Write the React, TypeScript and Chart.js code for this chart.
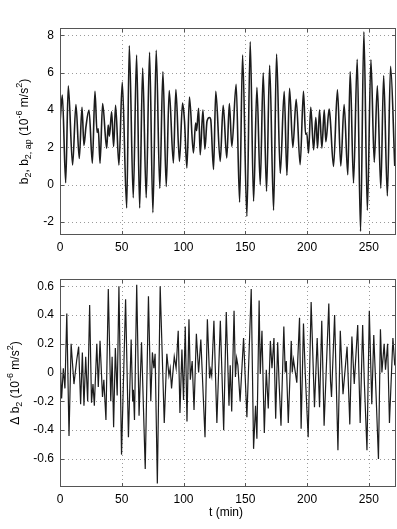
import React, { useEffect, useRef } from 'react';
import { Chart, registerables } from 'chart.js';

Chart.register(...registerables);

// ---------- data ----------
const xTickValues = [0, 50, 100, 150, 200, 250];
const topYTickValues = [-2, 0, 2, 4, 6, 8];
const bottomYTickValues = [-0.6, -0.4, -0.2, 0, 0.2, 0.4, 0.6];

const topTimes = [0,1.9,4.6,6.7,10.2,12.9,15.6,17.8,19.4,21,23.5,26.2,28.3,30,31,32.4,34.5,37.8,39,40,41.8,43.4,45,47.7,50.4,54,56.1,59.3,62,64.5,66.9,69.8,72.5,75.2,77.9,80.8,83.3,86,88.4,91.8,93.8,96.7,99.2,100.8,102.7,104.8,108,109.8,110.6,112.2,113.5,115.7,117.3,119,121,122,124.3,126.1,129.7,132.1,135,137.1,139.1,142.6,145.4,147.8,151.3,154,156.7,159.4,162.1,164.5,167.2,169.7,172.9,175.3,178.3,181.5,183.7,185.8,188.5,191.2,194.4,197.1,198.8,199.8,201.2,203,205.3,207.1,208.5,210.1,212,213.9,215.2,217.9,218.8,221.4,224.6,227.3,230,233,234.9,237.6,240.6,243.3,246,248.8,251.7,254.4,256.9,259.7,262,265,267.6,271];
const topValues = [3.3,4.8,0.1,5.3,1.05,4.3,1.4,4.15,2.1,3.1,4.0,1.15,5.0,2.8,3.0,1.15,4.35,1.95,3.2,2.6,3.9,2.05,4.25,1.05,5.5,-1.25,7.45,-0.7,6.95,-1.25,6.25,-0.7,7.1,-1.5,7.2,-0.2,6.06,-0.1,5.05,1.16,5.1,1.25,4.37,3.4,0.9,4.7,1.7,3.3,2.9,4.1,1.6,4.0,1.9,3.4,3.6,3.5,0.82,5.0,1.25,4.25,1.43,4.35,2.05,5.38,-0.94,6.95,-1.7,7.66,-0.89,5.22,0,6.0,-0.36,6.4,-1.37,7.0,0.6,5.0,0.5,5.17,2.0,4.58,1.07,5.0,2.7,2.75,1.7,4.15,1.87,3.6,1.96,4.0,1.96,4.0,2.3,4.05,3.5,0.98,5.08,1.0,4.3,0.53,6.06,0.09,6.72,-2.5,8.2,-1.37,6.7,1.2,5.3,-0.2,5.85,-0.6,6.35,1.0];

const bottomTimes = [0,1.3,2.7,4,5.5,7.3,9,11.3,13.5,15.1,16.7,18.1,19.4,20.8,22.4,24,25.5,26.7,27.8,29.8,31,32.4,34.4,35.5,37.2,39.1,41.1,42.2,43.4,44.8,46.3,47.7,49.8,53.1,55.4,57.6,58.8,59.4,60.3,62.1,64,66,69,71.6,73.5,74.8,76,77,78.8,81.1,84.4,86.5,88.2,89.2,90.3,92.5,94,95.7,97.1,98.7,100,101.4,102.8,104.4,105.5,107,108.5,110.4,112.2,114,117.4,119.3,121.1,122,122.8,124.6,127,129.8,132.5,134.6,136.8,137.8,139,140.9,142,143,144,145.8,148.6,151.3,154.8,156.7,158.3,159.4,161.2,162.1,163.5,165.4,167,168.6,170.3,171.6,173.2,174.6,176.2,177.3,178.9,181.2,182.3,183.2,184.8,187.2,188,189,191.7,193.9,195.2,197.1,198.5,200.9,203.3,206,208.2,210.1,211.9,213.8,217.6,219,219.8,222.3,225,226.9,229.1,232.4,234.6,236.3,238.2,241,243,245,246.3,248.5,250.4,252.4,254,255.2,257.8,259.4,260.6,262.4,263.5,265.2,266.7,269.5,271];
const bottomValues = [0.13,-0.18,0.03,-0.11,0.41,-0.44,0.2,-0.08,0.085,0.18,-0.22,0.14,-0.23,0.11,-0.2,0.47,-0.21,-0.08,-0.23,0.2,-0.1,0.22,-0.17,-0.05,-0.33,0.58,-0.2,0.11,-0.38,0.17,-0.16,0.6,-0.57,0.51,-0.45,0.23,-0.2,-0.12,-0.33,0.61,-0.3,0.21,-0.67,0.53,-0.2,0.14,0.03,0.13,-0.77,0.6,-0.35,0.13,-0.02,0.03,-0.11,0.11,0.03,0.29,-0.28,0.16,-0.19,0.32,-0.34,0.37,-0.05,0.08,-0.26,0.27,0.0,0.23,-0.45,0.37,-0.04,0.02,-0.02,0.36,-0.35,0.36,-0.4,0.42,-0.23,0.05,-0.27,0.43,-0.03,0.1,0.05,-0.2,0.24,-0.31,0.58,-0.53,-0.23,-0.46,0.5,-0.01,0.29,-0.42,0.02,-0.25,0.22,0.03,0.24,-0.32,0.21,-0.06,-0.37,0.32,0.0,0.08,-0.35,0.22,0.0,0.09,-0.07,0.38,-0.39,0.34,0.0,-0.45,0.49,-0.24,0.24,-0.24,0.36,-0.37,0.48,-0.06,-0.17,0.4,-0.54,0.29,-0.15,0.18,-0.36,0.25,-0.08,0.33,-0.35,0.33,-0.05,-0.54,0.43,-0.22,0.26,0.0,-0.6,0.3,0.0,0.2,0.02,0.2,-0.35,0.24,0.05];

type Seg = { t: string; k: 'n' | 'sub' | 'sup' };
const topLabel: Seg[] = [
  { t: 'b', k: 'n' }, { t: '2', k: 'sub' }, { t: ', b', k: 'n' }, { t: '2, ap', k: 'sub' },
  { t: ' (10', k: 'n' }, { t: '-6', k: 'sup' }, { t: ' m/s', k: 'n' }, { t: '2', k: 'sup' }, { t: ')', k: 'n' },
];
const bottomLabel: Seg[] = [
  { t: '\u0394 b', k: 'n' }, { t: '2', k: 'sub' }, { t: ' (10', k: 'n' }, { t: '-6', k: 'sup' },
  { t: ' m/s', k: 'n' }, { t: '2', k: 'sup' }, { t: ')', k: 'n' },
];

const FONT = '"Liberation Sans", Arial, Helvetica, sans-serif';

function framePlugin(yTicks: number[], label: Seg[], labelX: number, xTitle: string | null, xTitleY: number) {
  return {
    id: 'frame',
    beforeDatasetsDraw(chart: any) {
      const { ctx, chartArea: a, scales } = chart;
      ctx.save();
      ctx.strokeStyle = '#9a9a9a';
      ctx.lineWidth = 1;
      ctx.setLineDash([1, 3]);
      ctx.beginPath();
      for (const v of xTickValues) {
        const x = Math.round(scales.x.getPixelForValue(v)) + 0.5;
        if (x <= a.left + 1 || x >= a.right - 1) continue;
        ctx.moveTo(x, a.top); ctx.lineTo(x, a.bottom);
      }
      for (const v of yTicks) {
        const y = Math.round(scales.y.getPixelForValue(v)) + 0.5;
        ctx.moveTo(a.left, y); ctx.lineTo(a.right, y);
      }
      ctx.stroke();
      ctx.restore();
    },
    afterDraw(chart: any) {
      const { ctx, chartArea: a, scales } = chart;
      ctx.save();
      ctx.strokeStyle = '#555';
      ctx.lineWidth = 1;
      ctx.setLineDash([]);
      ctx.strokeRect(a.left + 0.5, a.top + 0.5, a.right - a.left - 1, a.bottom - a.top - 1);
      ctx.beginPath();
      for (const v of xTickValues) {
        const x = Math.round(scales.x.getPixelForValue(v)) + 0.5;
        ctx.moveTo(x, a.bottom); ctx.lineTo(x, a.bottom - 4);
        ctx.moveTo(x, a.top); ctx.lineTo(x, a.top + 4);
      }
      for (const v of yTicks) {
        const y = Math.round(scales.y.getPixelForValue(v)) + 0.5;
        ctx.moveTo(a.left, y); ctx.lineTo(a.left + 4, y);
        ctx.moveTo(a.right, y); ctx.lineTo(a.right - 4, y);
      }
      ctx.stroke();

      // y title with sub/superscripts
      const cy = (a.top + a.bottom) / 2;
      ctx.fillStyle = '#000';
      ctx.textBaseline = 'middle';
      ctx.textAlign = 'left';
      const fontFor = (k: string) => (k === 'n' ? `12px ${FONT}` : `9px ${FONT}`);
      let total = 0;
      for (const s of label) { ctx.font = fontFor(s.k); total += ctx.measureText(s.t).width; }
      ctx.translate(labelX, cy);
      ctx.rotate(-Math.PI / 2);
      let x = -total / 2;
      for (const s of label) {
        ctx.font = fontFor(s.k);
        const dy = s.k === 'sub' ? 4 : s.k === 'sup' ? -5 : 0;
        ctx.fillText(s.t, x, dy);
        x += ctx.measureText(s.t).width;
      }
      ctx.setTransform(1, 0, 0, 1, 0, 0);
      if (xTitle) {
        ctx.font = `12px ${FONT}`;
        ctx.textAlign = 'center';
        ctx.fillText(xTitle, (a.left + a.right) / 2 - 2, xTitleY);
      }
      ctx.restore();
    },
  };
}

function makeConfig(opts: {
  times: number[]; values: number[]; yMin: number; yMax: number; yTicks: number[];
  padTop: number; xAxisHeight: number; label: Seg[]; labelX: number; xTitle: string | null; xTitleY: number;
  smooth: boolean; lineWidth: number;
}) {
  const data = opts.times.map((t, i) => ({ x: t, y: opts.values[i] }));
  return {
    type: 'line' as const,
    data: {
      datasets: [{
        data,
        borderColor: '#1c1c1c',
        borderWidth: opts.lineWidth,
        pointRadius: 0,
        fill: false,
        tension: opts.smooth ? 0.4 : 0,
        cubicInterpolationMode: opts.smooth ? ('monotone' as const) : ('default' as const),
      }],
    },
    options: {
      responsive: false,
      animation: false as const,
      layout: { padding: { left: 0, right: 1, top: opts.padTop, bottom: 0 } },
      plugins: { legend: { display: false }, tooltip: { enabled: false } },
      scales: {
        x: {
          type: 'linear' as const,
          min: 0, max: 272,
          grid: { display: false, drawTicks: false },
          border: { display: false },
          afterBuildTicks: (s: any) => { s.ticks = xTickValues.map((v) => ({ value: v })); },
          afterFit: (s: any) => { s.height = opts.xAxisHeight; },
          ticks: { color: '#000', font: { family: FONT, size: 12 }, padding: 5, maxRotation: 0, autoSkip: false },
        },
        y: {
          type: 'linear' as const,
          min: opts.yMin, max: opts.yMax,
          grid: { display: false, drawTicks: false },
          border: { display: false },
          afterBuildTicks: (s: any) => { s.ticks = opts.yTicks.map((v) => ({ value: v })); },
          afterFit: (s: any) => { s.width = 60; },
          ticks: { color: '#000', font: { family: FONT, size: 12 }, padding: 6, autoSkip: false },
        },
      },
    },
    plugins: [framePlugin(opts.yTicks, opts.label, opts.labelX, opts.xTitle, opts.xTitleY)],
  };
}

export default function App() {
  const topRef = useRef<HTMLCanvasElement>(null);
  const bottomRef = useRef<HTMLCanvasElement>(null);

  useEffect(() => {
    const prevMargin = document.body.style.margin;
    document.body.style.margin = '0';
    const c1 = new Chart(topRef.current!, makeConfig({
      times: topTimes, values: topValues, yMin: -2.7, yMax: 8.4, yTicks: topYTickValues,
      padTop: 28, xAxisHeight: 25, label: topLabel, labelX: 25, xTitle: null, xTitleY: 0,
      smooth: true, lineWidth: 1.6,
    }) as any);
    const c2 = new Chart(bottomRef.current!, makeConfig({
      times: bottomTimes, values: bottomValues, yMin: -0.795, yMax: 0.65, yTicks: bottomYTickValues,
      padTop: 19, xAxisHeight: 42, label: bottomLabel, labelX: 16, xTitle: 't (min)', xTitleY: 253,
      smooth: false, lineWidth: 1.2,
    }) as any);
    return () => {
      c1.destroy();
      c2.destroy();
      document.body.style.margin = prevMargin;
    };
  }, []);

  return (
    <div style={{ position: 'relative', width: 397, height: 529, background: '#fff' }}>
      <canvas ref={topRef} width={397} height={260} style={{ position: 'absolute', left: 0, top: 0, width: 397, height: 260 }} />
      <canvas ref={bottomRef} width={397} height={269} style={{ position: 'absolute', left: 0, top: 260, width: 397, height: 269 }} />
    </div>
  );
}
